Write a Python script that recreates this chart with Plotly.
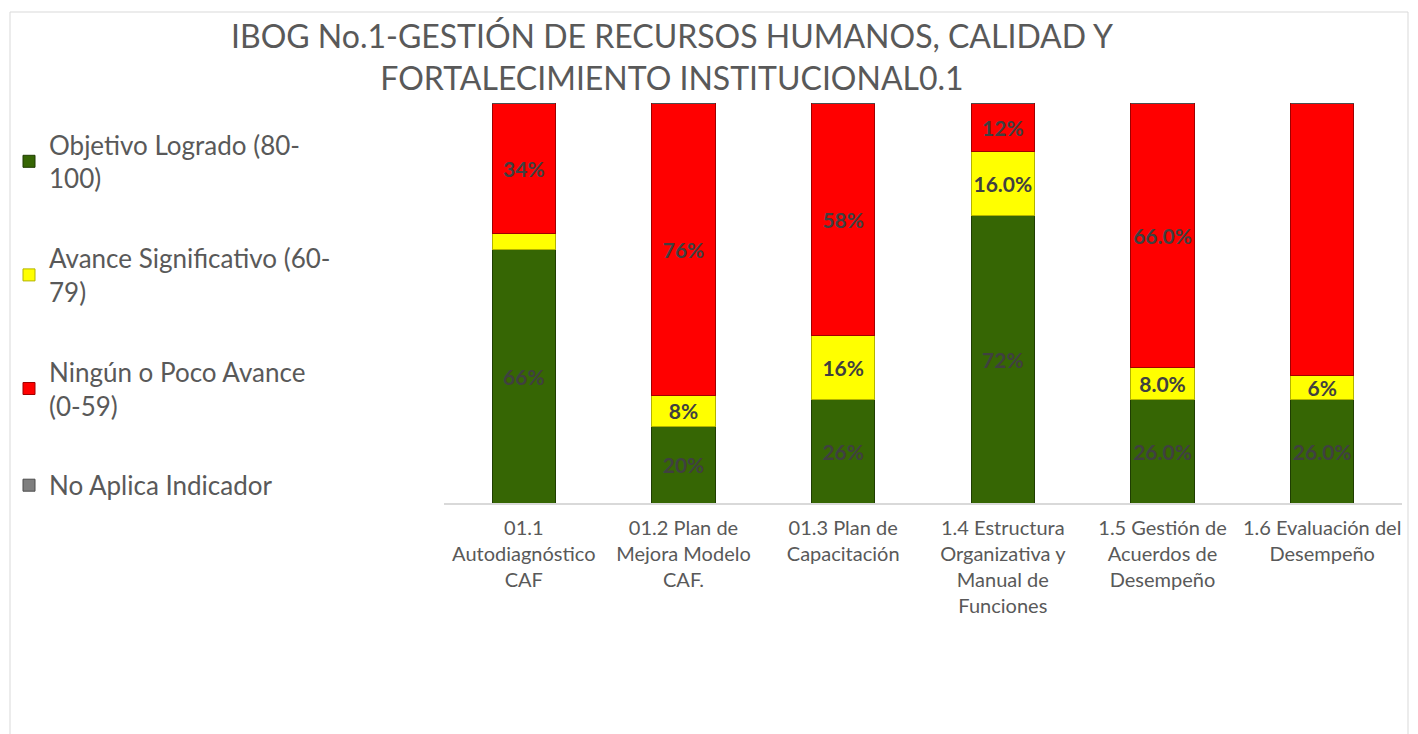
import plotly.graph_objects as go

categories = [
    "01.1<br>Autodiagnóstico<br>CAF",
    "01.2 Plan de<br>Mejora Modelo<br>CAF.",
    "01.3 Plan de<br>Capacitación",
    "1.4 Estructura<br>Organizativa y<br>Manual de<br>Funciones",
    "1.5 Gestión de<br>Acuerdos de<br>Desempeño",
    "1.6 Evaluación del<br>Desempeño",
]
logrado = [66, 20, 26, 72, 26, 26]
avance = [4, 8, 16, 16, 8, 6]
ninguno = [34, 76, 58, 12, 66, 68]
no_aplica = [0, 0, 0, 0, 0, 0]

logrado_txt = ["66%", "20%", "26%", "72%", "26.0%", "26.0%"]
avance_txt = ["", "8%", "16%", "16.0%", "8.0%", "6%"]
ninguno_txt = ["34%", "76%", "58%", "12%", "66.0%", ""]

FONT = "Lato"
W, H = 1418, 734
L, R, T, B = 444, 16, 103, 231

series = [
    ("Objetivo Logrado (80-<br>100)", logrado, logrado_txt, "#366604", "#1f3d02"),
    ("Avance Significativo (60-<br>79)", avance, avance_txt, "#ffff00", "#b3b300"),
    ("Ningún o Poco Avance<br>(0-59)", ninguno, ninguno_txt, "#ff0000", "#a00000"),
    ("No Aplica Indicador", no_aplica, ["" for _ in no_aplica], "#7f7f7f", "#4d4d4d"),
]

fig = go.Figure()
for i, (name, vals, txt, col, edge) in enumerate(series):
    fig.add_trace(go.Bar(
        x=categories, y=vals, name=name, text=txt,
        textposition="inside", insidetextanchor="middle", textangle=0,
        textfont=dict(family=FONT, size=21, color="#404040", weight="bold"),
        marker=dict(color=col, line=dict(color=edge, width=1)),
        legendgroup=str(i), cliponaxis=False,
    ))

pw = W - L - R
ph = H - T - B

fig.update_layout(
    width=W, height=H,
    margin=dict(l=L, r=R, t=T, b=B),
    barmode="stack", barnorm="percent", bargap=0.605,
    plot_bgcolor="white", paper_bgcolor="white",
    uniformtext=dict(minsize=21, mode="show"),
    title=dict(
        text="IBOG No.1-GESTIÓN DE RECURSOS HUMANOS, CALIDAD Y<br>FORTALECIMIENTO INSTITUCIONAL0.1",
        x=672 / W, xref="container", xanchor="center",
        y=1 - 48 / H, yref="container", yanchor="top",
        font=dict(family=FONT, size=32, color="#595959"),
    ),
    legend=dict(
        xref="container", yref="container",
        x=9 / W, y=1 - 121 / H, xanchor="left", yanchor="top",
        font=dict(family=FONT, size=26, color="#595959"),
        tracegroupgap=43, traceorder="grouped",
        bgcolor="rgba(0,0,0,0)", maxheight=600,
    ),
    xaxis=dict(
        showline=True, linecolor="#d9d9d9", linewidth=2,
        tickfont=dict(family=FONT, size=20, color="#595959"),
        ticks="", showgrid=False, ticklabelstandoff=6,
    ),
    yaxis=dict(range=[0, 100], visible=False, showgrid=False),
    showlegend=True,
)

# outer chart frame
fig.add_shape(
    type="rect", xref="paper", yref="paper",
    x0=(10 - L) / pw, x1=(1408 - L) / pw,
    y0=(H - B - 12) / ph, y1=(H - B - 760) / ph,
    line=dict(color="#d9d9d9", width=1), fillcolor="rgba(0,0,0,0)", layer="below",
)

fig.write_html(
    "out.html",
    config={"displayModeBar": False},
    post_script="document.body.style.margin='0px';document.body.style.overflow='hidden';",
)
